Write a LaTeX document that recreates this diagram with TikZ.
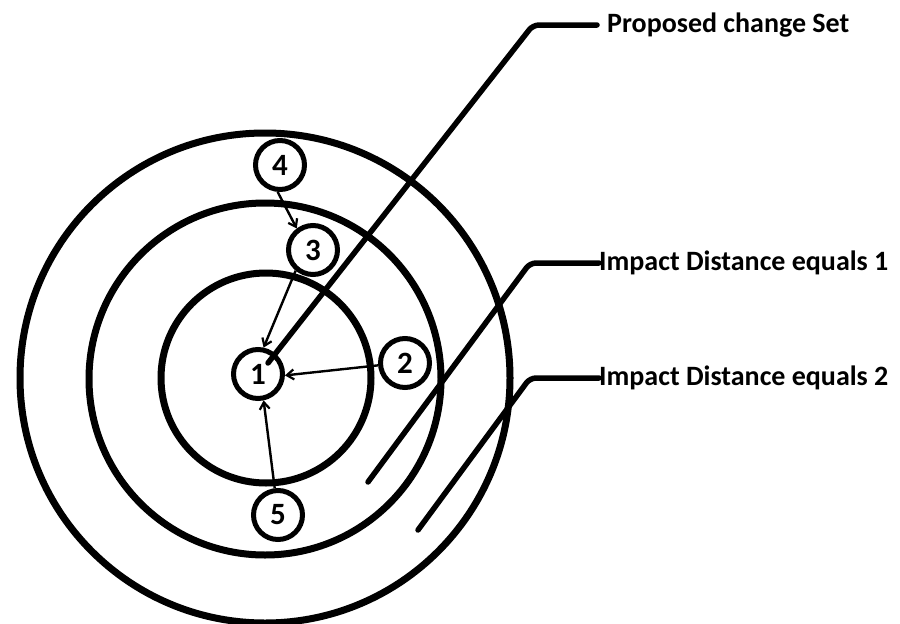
\documentclass[tikz,border=0pt]{standalone}
\usepackage{fontspec}
\setmainfont{Carlito}
\usetikzlibrary{arrows.meta}
\tikzset{
  ring/.style={line width=7pt},
  numnode/.style={draw, circle, line width=5pt, minimum size=49pt, inner sep=0pt, font=\fontsize{31}{32}\selectfont\bfseries},
  flow/.style={line width=2.4pt, -{Straight Barb[length=7pt,width=10pt,line width=2.2pt]}},
  leader/.style={line width=5.5pt, rounded corners=6pt, line cap=round},
  lbl/.style={anchor=west, inner sep=0pt, font=\fontsize{28}{30}\selectfont\bfseries}
}
\begin{document}
\begin{tikzpicture}[x=1pt,y=-1pt]
\useasboundingbox (0,0) rectangle (900,624);
% rings
\draw[ring] (265,378) circle (245);
\draw[ring] (265,379) circle (176);
\draw[ring] (266,378) circle (105);
% numbered nodes
\node[numnode] (n1) at (258,374) {1};
\node[numnode] (n2) at (405,363) {2};
\node[numnode] (n3) at (313,250) {3};
\node[numnode] (n4) at (280,165) {4};
\node[numnode] (n5) at (278,515) {5};
% arrows
\draw[flow] (n4.-95) -- (n3.127);
\draw[flow] (n3.230) -- (n1.78);
\draw[flow] (n2.185) -- (n1.-3);
\draw[flow] (n5.97) -- (n1.-78);
% labels
\node[lbl] (t1) at (607,25) {Proposed change Set};
\node[lbl] (t2) at (599,263) {Impact Distance equals 1};
\node[lbl] (t3) at (599,378) {Impact Distance equals 2};
% leader lines
\coordinate (s1) at (268,363);
\coordinate (b1) at (533,25);
\coordinate (e1) at ([xshift=-10pt]t1.west);
\coordinate (s2) at (368,482);
\coordinate (b2) at (530,263);
\coordinate (s3) at (418,530);
\coordinate (b3) at (530,378);
\draw[leader] (s1) -- (b1) -- (e1);
\draw[leader] (s2) -- (b2) -- (t2.west);
\draw[leader] (s3) -- (b3) -- (t3.west);
\end{tikzpicture}
\end{document}
